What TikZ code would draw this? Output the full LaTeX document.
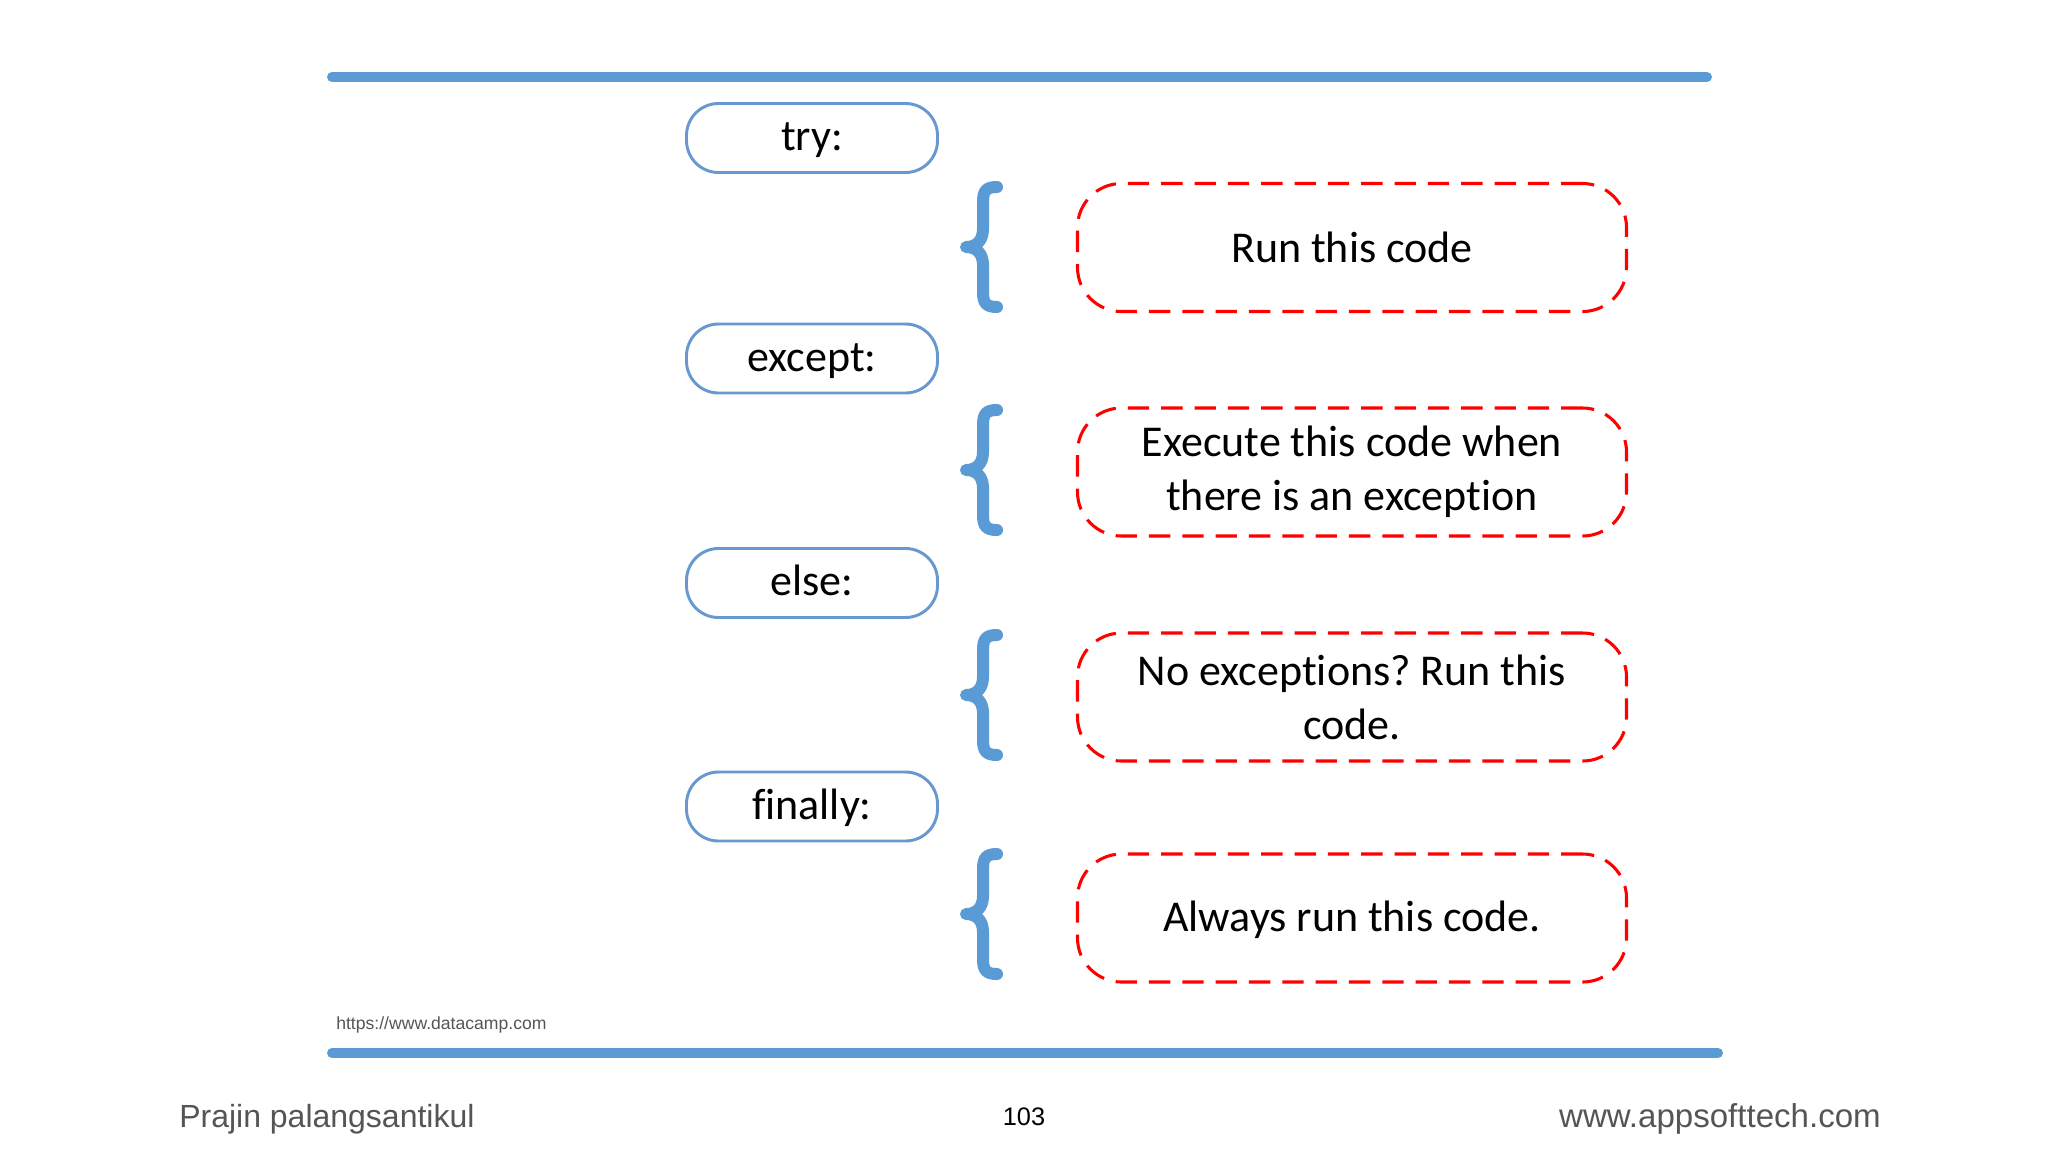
\documentclass[tikz,border=0pt]{standalone}
\usepackage{fontspec}
\setmainfont{Carlito}[Ligatures={NoCommon}]
\newfontfamily\footfont{Liberation Sans}
\definecolor{barblue}{RGB}{91,155,213}
\definecolor{pillblue}{RGB}{104,152,208}
\definecolor{dashred}{RGB}{255,0,0}
\definecolor{footgray}{RGB}{85,85,85}
\frenchspacing
\begin{document}
\begin{tikzpicture}[x=0.75pt,y=-0.75pt,
  keyword/.style={draw=pillblue,line width=2.2pt,fill=white,rounded corners=32pt*0.75,
    minimum width=251*0.75pt,minimum height=69*0.75pt,inner sep=0pt,
    text height=26pt,text depth=7pt,
    font=\fontsize{33}{40}\selectfont},
  codebox/.style={draw=dashred,line width=2.3pt,dash pattern=on 16pt off 9pt,
    rounded corners=44*0.75pt,minimum width=549*0.75pt,minimum height=128*0.75pt,
    inner sep=0pt,align=center,font=\fontsize{33}{40.5}\selectfont},
  bar/.style={draw=barblue,line width=7.5pt,line cap=round},
  bracestyle/.style={draw=barblue,line width=9pt,line cap=round,line join=round}]
\useasboundingbox (0,0) rectangle (2048,1150);
% bars
\coordinate (t1) at (332,77);
\coordinate (t2) at (1707,77);
\coordinate (b1) at (332,1053);
\coordinate (b2) at (1718,1053);
\draw[bar] (t1) -- (t2);
\draw[bar] (b1) -- (b2);
% keywords
\node[keyword] (try) at (812,138) {try:};
\node[keyword] (except) at (812,358.5) {except:};
\node[keyword] (else) at (812,583) {else:};
\node[keyword] (finally) at (812,806.5) {finally:};
% code boxes
\node[codebox] (c1) at (1352,247.5) {Run this code};
\node[codebox] (c2) at (1352,472) {Execute this code when\\there is an exception};
\node[codebox] (c3) at (1352,697) {No exceptions? Run this\\code.};
\node[codebox,text height=27.5pt,text depth=7pt] (c4) at (1352,918) {Always run this code.};
% braces
\foreach \n/\c in {br1/247, br2/470, br3/695, br4/914}{
  \draw[bracestyle] (997,\c-60) .. controls (986,\c-60) and (983,\c-56) .. (983,\c-45)
    -- (983,\c-18) .. controls (983,\c-6) and (976,\c) .. (966,\c)
    .. controls (976,\c) and (983,\c+6) .. (983,\c+18)
    -- (983,\c+45) .. controls (983,\c+56) and (986,\c+60) .. (997,\c+60);
}
% footer
\node[anchor=west,inner sep=0pt,text=footgray,font=\footfont\fontsize{13.2}{15}\selectfont] (src) at (336,1025) {https://www.datacamp.com};
\node[anchor=west,inner sep=0pt,text=footgray,font=\footfont\fontsize{24}{28}\selectfont] (author) at (179,1119) {Prajin palangsantikul};
\node[inner sep=0pt,text=black,font=\footfont\fontsize{19}{22}\selectfont] (page) at (1024,1117) {103};
\node[anchor=east,inner sep=0pt,text=footgray,font=\footfont\fontsize{24.8}{28}\selectfont] (site) at (1881,1119) {www.appsofttech.com};
\end{tikzpicture}
\end{document}
